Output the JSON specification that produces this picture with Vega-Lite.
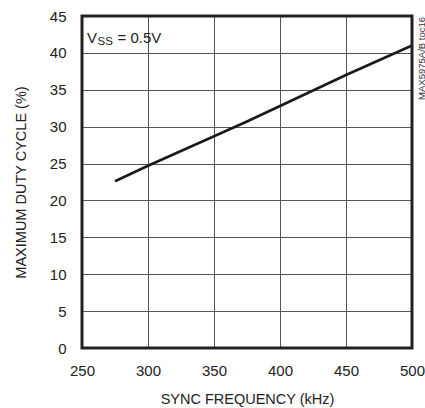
{
  "$schema": "https://vega.github.io/schema/vega-lite/v6.json",
  "autosize": {"type": "none"},
  "padding": {"left": 82, "top": 16, "right": 13, "bottom": 60},
  "width": 330,
  "height": 332,
  "background": "white",
  "config": {
    "view": {"stroke": null},
    "font": "Liberation Sans, Arial, sans-serif",
    "axis": {
      "domain": false,
      "ticks": false,
      "grid": true,
      "gridColor": "#555",
      "gridWidth": 1,
      "labelFlush": false,
      "labelOverlap": false,
      "labelFontSize": 15,
      "labelColor": "#222",
      "titleFontSize": 14.5,
      "titleFontWeight": "normal",
      "titleColor": "#222"
    }
  },
  "datasets": {
    "duty": [
      {"freq_khz": 275, "duty_pct": 22.6},
      {"freq_khz": 300, "duty_pct": 24.7},
      {"freq_khz": 325, "duty_pct": 26.7},
      {"freq_khz": 350, "duty_pct": 28.7},
      {"freq_khz": 375, "duty_pct": 30.7},
      {"freq_khz": 400, "duty_pct": 32.8},
      {"freq_khz": 425, "duty_pct": 34.9},
      {"freq_khz": 450, "duty_pct": 37.0},
      {"freq_khz": 475, "duty_pct": 39.0},
      {"freq_khz": 500, "duty_pct": 41.0}
    ]
  },
  "resolve": {"axis": {"x": "independent", "y": "independent"}},
  "layer": [
    {
      "data": {"name": "duty"},
      "mark": {"type": "line", "color": "#1a1a1a", "strokeWidth": 2.6, "strokeCap": "butt"},
      "encoding": {
        "x": {
          "field": "freq_khz",
          "type": "quantitative",
          "scale": {"domain": [250, 500], "nice": false, "zero": false},
          "axis": {
            "title": "SYNC FREQUENCY (kHz)",
            "values": [250, 300, 350, 400, 450, 500],
            "labelPadding": 15,
            "titleBaseline": "alphabetic",
            "titleY": 55
          }
        },
        "y": {
          "field": "duty_pct",
          "type": "quantitative",
          "scale": {"domain": [0, 45], "nice": false},
          "axis": {
            "title": "MAXIMUM DUTY CYCLE (%)",
            "values": [0, 5, 10, 15, 20, 25, 30, 35, 40, 45],
            "labelPadding": 16,
            "titleBaseline": "alphabetic",
            "titleX": -57
          }
        }
      }
    },
    {
      "data": {"values": [{}]},
      "mark": {"type": "rect", "fill": null, "stroke": "#222", "strokeWidth": 3},
      "encoding": {
        "x": {"datum": 250, "type": "quantitative", "axis": null},
        "x2": {"datum": 500},
        "y": {"datum": 0, "type": "quantitative", "axis": null},
        "y2": {"datum": 45}
      }
    },
    {
      "data": {"values": [{}]},
      "mark": {"type": "text", "text": "V", "align": "left", "baseline": "alphabetic", "fontSize": 15, "dx": 5, "dy": 27, "color": "#222"},
      "encoding": {
        "x": {"datum": 250, "type": "quantitative", "axis": null},
        "y": {"datum": 45, "type": "quantitative", "axis": null}
      }
    },
    {
      "data": {"values": [{}]},
      "mark": {"type": "text", "text": "SS", "align": "left", "baseline": "alphabetic", "fontSize": 11.5, "dx": 15.5, "dy": 29, "color": "#222"},
      "encoding": {
        "x": {"datum": 250, "type": "quantitative", "axis": null},
        "y": {"datum": 45, "type": "quantitative", "axis": null}
      }
    },
    {
      "data": {"values": [{}]},
      "mark": {"type": "text", "text": "= 0.5V", "align": "left", "baseline": "alphabetic", "fontSize": 15, "dx": 35.5, "dy": 27, "color": "#222"},
      "encoding": {
        "x": {"datum": 250, "type": "quantitative", "axis": null},
        "y": {"datum": 45, "type": "quantitative", "axis": null}
      }
    },
    {
      "data": {"values": [{}]},
      "mark": {"type": "text", "text": "MAX5975A/B toc16", "angle": 270, "align": "right", "baseline": "top", "fontSize": 9.5, "dx": -1, "dy": 4.5, "color": "#333"},
      "encoding": {
        "x": {"datum": 500, "type": "quantitative", "axis": null},
        "y": {"datum": 45, "type": "quantitative", "axis": null}
      }
    }
  ]
}
